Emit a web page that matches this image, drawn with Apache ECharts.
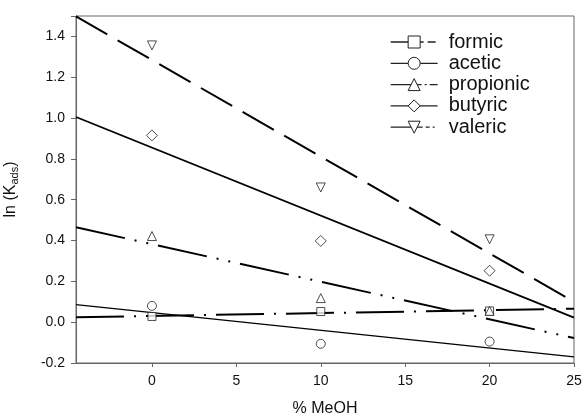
<!DOCTYPE html>
<html>
<head>
<meta charset="utf-8">
<script src="https://cdn.jsdelivr.net/npm/echarts@6/dist/echarts.min.js"></script>
<style>html,body{margin:0;padding:0;background:#fff}#c{width:582px;height:416px}</style>
</head>
<body>
<div id="c"></div>
<script>
// Measured data (x = % MeOH)
const xData = [0, 10, 20];
const formic = [0.028, 0.052, 0.055];
const acetic = [0.080, -0.106, -0.095];
const propionic = [0.422, 0.118, 0.055];
const butyric = [0.915, 0.398, 0.252];
const valeric = [1.356, 0.660, 0.406];

// Fitted lines, read at the axis ends
const fitX = [-4.5, 25];
const formicFit = [0.024, 0.066];
const aceticFit = [0.086, -0.170];
const propionicFit = [0.465, -0.078];
const butyricFit = [1.005, 0.022];
const valericFit = [1.498, 0.100];

const names = ['formic', 'acetic', 'propionic', 'butyric', 'valeric'];
const xTicks = [0, 5, 10, 15, 20, 25];

const FONT = '"Liberation Sans", Arial, Helvetica, sans-serif';
const pair = (xs, ys) => xs.map((x, i) => [x, ys[i]]);

const cfg = {
  formic:    {pts: formic, fit: formicFit, symbol: 'rect', size: 8, rot: 0, dash: [48, 10, 2, 10], width: 2, legDash: [33, 4, 8, 10]},
  acetic:    {pts: acetic, fit: aceticFit, symbol: 'circle', size: 9, rot: 0, dash: 'solid', width: 1.5, legDash: 'solid'},
  propionic: {pts: propionic, fit: propionicFit, symbol: 'triangle', size: 9, rot: 0, dash: [50, 10, 2, 10, 2, 10], width: 2, legDash: [31, 3, 2, 3, 8, 10]},
  butyric:   {pts: butyric, fit: butyricFit, symbol: 'diamond', size: 11, rot: 0, dash: 'solid', width: 1.8, legDash: 'solid'},
  valeric:   {pts: valeric, fit: valericFit, symbol: 'triangle', size: 9, rot: 180, dash: [36, 12], width: 2, legDash: [32, 3, 4, 3, 2, 10]}
};

const series = [];
names.forEach(n => {
  const c = cfg[n];
  series.push({
    name: n, type: 'line', data: pair(fitX, c.fit),
    symbol: c.symbol, symbolRotate: c.rot, symbolSize: c.size, showSymbol: false,
    lineStyle: {color: '#000', width: c.width, type: c.dash},
    itemStyle: {color: '#fff', borderColor: '#222', borderWidth: 1},
    silent: true, animation: false, z: 2
  });
  series.push({
    name: n + ' data', type: 'scatter', data: pair(xData, c.pts),
    symbol: c.symbol, symbolRotate: c.rot, symbolSize: c.size,
    itemStyle: {color: '#fff', borderColor: '#222', borderWidth: 1},
    animation: false, z: 3
  });
});

const chart = echarts.init(document.getElementById('c'), null, {renderer: 'canvas'});
chart.setOption({
  backgroundColor: '#fff',
  animation: false,
  grid: {left: 76, top: 16, right: 8, bottom: 53, containLabel: false, outerBoundsMode: 'none',
    show: true, borderColor: '#666', borderWidth: 1, backgroundColor: 'transparent'},
  legend: {
    data: names.map(n => ({
      name: n,
      itemStyle: {color: '#fff', borderColor: '#222', borderWidth: 1},
      lineStyle: {color: '#222', width: 1.3, type: cfg[n].legDash}
    })),
    orient: 'vertical', left: 390, top: 32, padding: 0,
    itemWidth: 47, itemHeight: 15, itemGap: 1.3,
    textStyle: {fontFamily: FONT, fontSize: 20, color: '#111', padding: [0, 0, 0, 6]},
    selectedMode: false
  },
  xAxis: {
    type: 'value', min: -4.5, max: 25,
    name: '% MeOH', nameLocation: 'middle', nameGap: 38,
    nameTextStyle: {fontFamily: FONT, fontSize: 16, color: '#111'},
    axisLine: {show: true, onZero: false, lineStyle: {color: '#666', width: 1}},
    axisTick: {show: true, length: 4, lineStyle: {color: '#666'}, customValues: xTicks},
    axisLabel: {fontFamily: FONT, fontSize: 14, color: '#111', margin: 11, customValues: xTicks},
    splitLine: {show: false}
  },
  yAxis: {
    type: 'value', min: -0.2, max: 1.5, interval: 0.2,
    name: '{n|ln (K}{s|ads}{n|)}', nameLocation: 'middle', nameRotate: 90, nameGap: 56,
    nameTextStyle: {
      fontFamily: FONT, fontSize: 16, color: '#111',
      rich: {
        n: {fontFamily: FONT, fontSize: 16, color: '#111', lineHeight: 18, verticalAlign: 'middle'},
        s: {fontFamily: FONT, fontSize: 11, color: '#111', lineHeight: 18, verticalAlign: 'bottom'}
      }
    },
    axisLine: {show: true, onZero: false, lineStyle: {color: '#666', width: 1}},
    axisTick: {show: true, length: 5, lineStyle: {color: '#666'}},
    axisLabel: {fontFamily: FONT, fontSize: 14, color: '#111', margin: 11,
      formatter: v => (Math.abs(v - 1.5) < 1e-9 ? '' : v.toFixed(1))},
    splitLine: {show: false}
  },
  series: series
});
</script>
</body>
</html>
